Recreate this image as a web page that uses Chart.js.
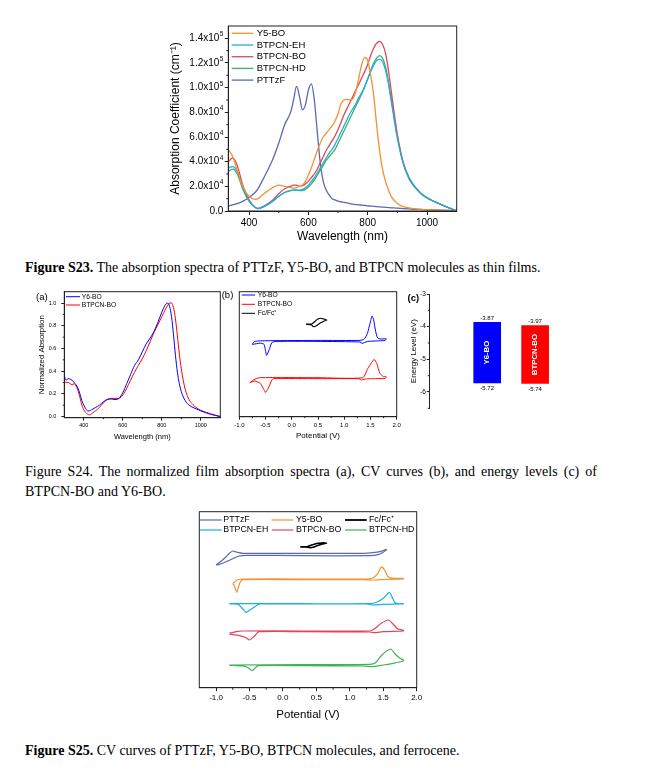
<!DOCTYPE html>
<html><head><meta charset="utf-8">
<script src="https://cdn.jsdelivr.net/npm/chart.js@4.4.0/dist/chart.umd.min.js"></script>
<style>
html,body{margin:0;padding:0;background:#fff;}
body{width:655px;height:772px;position:relative;overflow:hidden;}
.box{position:absolute;}
.cap{position:absolute;left:25px;font-family:'Liberation Serif','Times New Roman',serif;font-size:14px;line-height:16px;color:#000;white-space:nowrap;}
</style></head><body>
<div class="box" style="left:160px;top:0px;width:310px;height:250px"><canvas id="c1"></canvas></div>
<div class="cap" style="top:260px"><b>Figure S23.</b> The absorption spectra of PTTzF, Y5-BO, and BTPCN molecules as thin films.</div>
<div class="box" style="left:30px;top:280px;width:195px;height:165px"><canvas id="c2"></canvas></div>
<div class="box" style="left:215px;top:280px;width:190px;height:165px"><canvas id="c3"></canvas></div>
<div class="box" style="left:395px;top:280px;width:210px;height:140px"><canvas id="c4"></canvas></div>
<div class="cap" style="top:464px;width:572px;white-space:normal;text-align:justify;text-align-last:justify;">Figure S24. The normalized film absorption spectra (a), CV curves (b), and energy levels (c) of</div>
<div class="cap" style="top:484px">BTPCN-BO and Y6-BO.</div>
<div class="box" style="left:190px;top:505px;width:240px;height:220px"><canvas id="c5"></canvas></div>
<div class="cap" style="top:743px"><b>Figure S25.</b> CV curves of PTTzF, Y5-BO, BTPCN molecules, and ferrocene.</div>
<script>
// ---------- Figure S23 data (absorption coefficient, units of 1e4 cm^-1) ----------
const wl = [330,345,360,380,400,420,430,450,480,500,520,540,550,560,570,580,590,600,610,620,630,640,650,660,670,680,690,700,710,720,730,740,750,760,770,780,790,800,810,820,830,840,850,860,870,880,890,900,920,940,960,980,1000,1050,1100];
const y5bo = [5.0,4.4,3.3,1.9,1.2, 0.95,1.0,1.4,1.9,2.1, 2.0,1.9,1.85,1.9,2.0, 2.1,2.4,2.9,3.5,4.2, 4.9,5.5,6.0,6.3,6.6, 6.9,7.3,7.9,8.7,9.0, 9.05,9.0,9.1,9.7,10.8, 11.9,12.45,12.2,11.0,9.4, 7.0,4.9,3.4,2.4,1.7, 1.15,0.85,0.6,0.35,0.25, 0.18,0.13,0.1,0.05,0.0];
const btpcnEH = [3.5,3.6,3.2,1.8,0.8, 0.3,0.2,0.35,0.8,1.2, 1.5,1.65,1.7,1.7,1.7, 1.75,1.9,2.1,2.4,2.7, 3.1,3.5,3.9,4.3,4.7, 5.0,5.4,5.9,6.4,6.9, 7.4,7.9,8.3,8.7,9.2, 9.6,10.1,10.7,11.3,11.8, 12.2,12.3,12.1,11.4,10.3, 8.8,7.3,5.9,3.8,2.6, 1.9,1.4,1.05,0.5,0.0];
const btpcnBO = [4.0,4.3,3.7,2.0,0.9, 0.3,0.2,0.4,0.9,1.4, 1.8,2.0,2.1,2.1,2.0, 2.05,2.2,2.4,2.7,3.0, 3.4,3.9,4.4,4.9,5.3, 5.7,6.1,6.6,7.2,7.8, 8.3,8.8,9.3,9.8,10.3, 10.8,11.3,11.9,12.6,13.2, 13.6,13.75,13.5,12.8,11.4, 9.6,7.8,6.2,3.9,2.6, 1.9,1.4,1.05,0.5,0.0];
const btpcnHD = [3.2,3.4,3.0,1.7,0.8, 0.3,0.2,0.35,0.8,1.2, 1.5,1.65,1.7,1.7,1.65, 1.65,1.75,1.95,2.2,2.5, 2.9,3.3,3.7,4.1,4.4, 4.7,5.0,5.5,6.0,6.5, 7.0,7.5,8.0,8.5,9.0, 9.5,10.1,10.7,11.4,12.0, 12.4,12.6,12.4,11.7,10.5, 9.0,7.5,6.0,3.9,2.7, 1.95,1.45,1.1,0.5,0.0];
const pttzf = [0.4,0.5,0.6,0.8,1.1, 1.5,1.8,2.7,4.2,5.5, 7.0,8.0,9.0,10.1,9.3, 8.2,8.6,9.8,10.3,9.0, 6.4,3.9,2.4,1.7,1.3, 1.0,0.9,0.8,0.75,0.7, 0.65,0.6,0.55,0.52,0.5, 0.47,0.45,0.42,0.4,0.38, 0.36,0.34,0.32,0.3,0.28, 0.26,0.25,0.23,0.2,0.17, 0.14,0.12,0.1,0.07,0.05];
const s23Names = ['Y5-BO','BTPCN-EH','BTPCN-BO','BTPCN-HD','PTTzF'];
const s23Colors = ['#F5912E','#1DAEE4','#E1455D','#3DB25A','#5B68B3'];
const s23Values = [y5bo, btpcnEH, btpcnBO, btpcnHD, pttzf];
const s23XTicks = [400,600,800,1000];
const s23YTicks = [0,2,4,6,8,10,12,14];

// ---------- Figure S24a (normalized absorption) ----------
const wlA = [300,310,320,330,340,350,360,370,380,390,400,410,420,430,440,460,480,500,520,540,560,580,600,620,640,660,680,700,720,740,760,780,800,820,830,840,850,860,870,880,890,900,920,940,960,980,1000,1050,1100];
const normY6 = [0.36,0.32,0.335,0.33,0.32,0.30,0.28,0.25,0.2,0.14,0.1, 0.07,0.05,0.05,0.06, 0.08,0.1,0.13,0.15,0.155, 0.15,0.16,0.21,0.29,0.37, 0.45,0.5,0.57,0.64,0.69, 0.75,0.83,0.92,0.99,1.0, 0.97,0.88,0.72,0.54,0.39, 0.29,0.22,0.14,0.1,0.08, 0.065,0.05,0.02,0.0];
const normBO = [0.31,0.30,0.30,0.29,0.28,0.29,0.27,0.23,0.17,0.1,0.06, 0.035,0.02,0.015,0.025, 0.05,0.08,0.12,0.15,0.16, 0.16,0.16,0.19,0.25,0.32, 0.39,0.45,0.51,0.58,0.66, 0.74,0.81,0.88,0.95,0.98, 1.0,1.0,0.96,0.86,0.71, 0.55,0.42,0.24,0.15,0.105, 0.075,0.055,0.025,0.0];
const aXTicks = [400,600,800,1000];

// ---------- Figure S24b (CV, arbitrary current units) ----------
const y6V = [-0.75,-0.72,-0.65,-0.4,0.5,1.3,1.38,1.44,1.49,1.53,1.56,1.6,1.64,1.72,1.8,1.78,1.6,1.45,1.38,1.34,1.3,0.5,-0.3,-0.38,-0.43,-0.48,-0.5,-0.53,-0.6,-0.75];
const y6I = [72.3,75.0,75.7,76.0,76.3,76.3,77.5,83,93,100.7,97,85,78.5,77.7,78,76.3,75.7,75.3,74,73.3,74.7,75.3,75.3,74,67,61.3,66,72.5,73.5,72.3];
const boV = [-0.8,-0.7,-0.6,0.5,1.35,1.45,1.52,1.57,1.62,1.68,1.75,1.8,1.78,1.5,1.38,1.33,1.28,0.5,-0.35,-0.38,-0.45,-0.5,-0.53,-0.6,-0.7,-0.8];
const boI = [34,37.7,39,39,39,48.3,54,57.3,53.3,43.3,40,40,38.3,38,37.5,36.7,38,38,38,36.7,28.3,24.3,27,33.3,35.7,34];
const fcbV = [0.27,0.38,0.49,0.55,0.63,0.67,0.63,0.55,0.46,0.41,0.38,0.27];
const fcbI = [92.7,92.7,97.4,98.4,97.4,96.7,96,94,90.7,90,91.7,92.4];

// ---------- Figure S24c (energy levels, eV) ----------
const levelNames = ['Y6-BO','BTPCN-BO'];
const lumo = [-3.87,-3.97];
const homo = [-5.72,-5.74];
const levelColors = ['#0000FF','#FF0000'];

// ---------- Figure S25 (CV, arbitrary current units) ----------
const cvPTTzFV = [-1.0,-0.92,-0.85,-0.8,-0.75,-0.7,-0.6,0.3,1.2,1.35,1.45,1.55,1.5,1.42,1.3,0.3,-0.55,-0.65,-0.72,-0.8,-0.9,-0.96,-1.0];
const cvPTTzFI = [122.7,126.7,131.0,134.4,136.7,135.7,134.4,134.4,134.4,135.0,136.0,138.4,135.4,133.0,132.0,132.0,132.4,131.7,130.0,127.4,124.4,123.0,122.7];
const cvY5V = [-0.75,-0.72,-0.68,-0.6,0.3,1.25,1.35,1.42,1.47,1.52,1.57,1.65,1.8,1.8,1.6,1.45,1.35,1.2,0.3,-0.6,-0.64,-0.67,-0.69,-0.71,-0.73,-0.75];
const cvY5I = [104.0,106.0,108.0,108.7,108.7,108.7,110.0,114.4,120.7,117.7,111.0,109.4,109.4,108.7,108.4,108.0,107.7,108.0,108.0,108.0,105.4,99.4,95.4,98.7,102.7,104.0];
const cvEHV = [-0.8,0.3,1.3,1.4,1.5,1.59,1.63,1.67,1.72,1.8,1.8,1.5,1.35,1.25,0.3,-0.35,-0.42,-0.5,-0.55,-0.6,-0.67,-0.8];
const cvEHI = [84.0,84.0,84.0,85.4,89.4,95.4,91.0,85.4,84.0,84.0,83.7,83.4,82.7,83.7,83.7,83.7,81.0,77.4,75.4,78.7,83.4,83.7];
const cvBOV = [-0.8,-0.7,-0.6,0.3,1.3,1.38,1.47,1.58,1.65,1.72,1.8,1.8,1.5,1.37,1.3,0.3,-0.36,-0.42,-0.5,-0.55,-0.65,-0.8];
const cvBOI = [54.4,56.0,56.7,56.7,56.7,59.4,64.4,67.7,63.4,58.7,57.4,56.7,56.0,55.0,55.7,56.0,56.0,52.0,47.7,50.0,52.0,53.7];
const cvHDV = [-0.8,0.3,1.3,1.38,1.48,1.61,1.68,1.75,1.8,1.8,1.65,1.5,1.38,1.33,1.2,0.3,-0.37,-0.42,-0.46,-0.52,-0.6,-0.8];
const cvHDI = [22.7,23.0,23.4,24.7,32.7,38.7,33.4,29.4,27.7,26.7,24.4,22.7,21.4,21.0,21.7,22.0,22.0,19.4,17.0,20.0,21.7,22.4];
const cvFcV = [0.26,0.36,0.43,0.48,0.53,0.6,0.65,0.58,0.5,0.455,0.405,0.33,0.26];
const cvFcI = [141.0,141.0,142.7,143.7,144.4,145.0,144.4,143.4,141.7,140.4,140.0,140.7,140.7];

// ---------- helpers ----------
const FF = "'Liberation Sans', Arial, sans-serif";
Chart.defaults.font.family = FF;
Chart.defaults.color = '#000';
Chart.defaults.animation = false;
Chart.defaults.plugins.legend.display = false;
Chart.defaults.plugins.tooltip.enabled = false;
Chart.defaults.elements.point.radius = 0;

function fixY(w){ return s => { s.width = w; s.paddingTop = 0; s.paddingBottom = 0; s.paddingLeft = 0; s.paddingRight = 0; }; }
function fixX(h){ return s => { s.height = h; s.paddingTop = 0; s.paddingBottom = 0; s.paddingLeft = 0; s.paddingRight = 0; }; }
function pts(xs, ys){ return xs.map((x,i)=>({x:x, y:ys[i]})); }
function line(label, xs, ys, color, lw, extra){
  return Object.assign({label:label, data:pts(xs,ys), borderColor:color, backgroundColor:color, borderWidth:lw, pointRadius:0, fill:false, showLine:true}, extra||{});
}

const deco = {
  id:'deco',
  afterDatasetsDraw(chart, args, o){
    const ctx = chart.ctx, a = chart.chartArea, ox = o.off[0], oy = o.off[1];
    ctx.save();
    if (o.frame){ ctx.strokeStyle = '#222'; ctx.lineWidth = 1; ctx.strokeRect(a.left, a.top, a.right - a.left, a.bottom - a.top); }
    (o.minor||[]).forEach(m=>{
      const s = chart.scales[m.axis]; ctx.strokeStyle = '#222'; ctx.lineWidth = 1;
      m.values.forEach(v=>{
        const p = s.getPixelForValue(v); ctx.beginPath();
        if (m.axis === 'x'){ ctx.moveTo(p, a.bottom); ctx.lineTo(p, a.bottom + m.len); }
        else { ctx.moveTo(a.left, p); ctx.lineTo(a.left - m.len, p); }
        ctx.stroke();
      });
    });
    if (o.supTicks){
      const st = o.supTicks, s = chart.scales.y;
      ctx.fillStyle = '#000'; ctx.textBaseline = 'middle'; ctx.textAlign = 'right';
      s.ticks.forEach(t=>{
        const v = t.value, p = s.getPixelForValue(v), xr = a.left - st.gap;
        if (v === 0){ ctx.font = st.size + 'px ' + FF; ctx.fillText('0.0', xr, p); return; }
        const exp = v < 10 ? '4' : '5';
        const man = (v < 10 ? v.toFixed(1) : (v/10).toFixed(1)) + 'x10';
        ctx.font = st.supSize + 'px ' + FF; const ew = ctx.measureText(exp).width;
        ctx.fillText(exp, xr, p - st.size*0.38);
        ctx.font = st.size + 'px ' + FF; ctx.fillText(man, xr - ew - 0.3, p);
      });
    }
    (o.legend||[]).forEach(e=>{
      ctx.strokeStyle = e.color; ctx.lineWidth = e.lw || 1.3;
      ctx.beginPath(); ctx.moveTo(e.x1 - ox, e.y - oy); ctx.lineTo(e.x2 - ox, e.y - oy); ctx.stroke();
      ctx.fillStyle = '#000'; ctx.font = e.size + 'px ' + FF; ctx.textAlign = 'left'; ctx.textBaseline = 'middle';
      ctx.fillText(e.text, e.tx - ox, e.y - oy);
    });
    (o.texts||[]).forEach(t=>{
      ctx.fillStyle = t.color || '#000'; ctx.font = (t.weight || 'normal') + ' ' + t.size + 'px ' + FF;
      ctx.textAlign = t.align || 'left'; ctx.textBaseline = 'middle';
      ctx.fillText(t.text, t.x - ox, t.y - oy);
    });
    ctx.restore();
  }
};

function axisX(o){
  const ax = {type:'linear', min:o.min, max:o.max, afterFit:fixX(o.h),
    border:{display:true, color:'#222', width:1},
    grid:{display:true, drawOnChartArea:false, drawTicks:true, tickLength:o.tl, tickColor:'#222', tickWidth:1},
    ticks:{stepSize:o.step, includeBounds:false, autoSkip:false, maxRotation:0, padding:o.pad, font:{size:o.fs}, callback:o.fmt},
    title:{display:!!o.title, text:o.title, font:{size:o.tfs}, padding:{top:0, bottom:o.tpb}}};
  if (o.tickList) ax.afterBuildTicks = s => { s.ticks = o.tickList.map(v=>({value:v})); };
  return ax;
}
function axisY(o){
  const ax = {type:'linear', min:o.min, max:o.max, afterFit:fixY(o.w),
    border:{display:true, color:'#222', width:1},
    grid:{display:true, drawOnChartArea:false, drawTicks:true, tickLength:o.tl, tickColor:'#222', tickWidth:1},
    ticks:{stepSize:o.step, includeBounds:false, autoSkip:false, padding:o.pad, font:{size:o.fs}, callback:o.fmt},
    title:{display:!!o.title, text:o.title, font:{size:o.tfs}, padding:{top:o.tpt, bottom:0}}};
  if (o.tickList) ax.afterBuildTicks = s => { s.ticks = o.tickList.map(v=>({value:v})); };
  return ax;
}

// ---------- Chart 1: Figure S23 ----------
new Chart(document.getElementById('c1'), {
  type:'line',
  data:{datasets: s23Names.map((n,i)=>line(n, wl, s23Values[i], s23Colors[i], 1.3, {cubicInterpolationMode:'monotone'}))},
  options:{responsive:true, maintainAspectRatio:false,
    layout:{padding:{left:0, top:26, right:13.3, bottom:0}},
    scales:{
      x: axisX({min:330, max:1100, h:39, tl:4, step:200, pad:2, fs:10, fmt:v=>String(v), title:'Wavelength (nm)', tfs:12, tpb:5.8, tickList:s23XTicks}),
      y: axisY({min:0, max:15, w:68.3, tl:3.5, step:2, pad:1.5, fs:10, fmt:v=>'',
        title:'Absorption Coefficient (cm\u207B\u00B9)', tfs:12, tpt:8, tickList:s23YTicks})
    },
    plugins:{deco:{off:[160,0], frame:true,
      supTicks:{gap:5, size:10, supSize:6.5},
      minor:[{axis:'x', values:[500,700,900], len:2},{axis:'y', values:[1,3,5,7,9,11,13], len:2}],
      legend: s23Names.map((n,i)=>({x1:231.7, x2:253.3, y:33.3+i*11.7, tx:256.7, text:n, color:s23Colors[i], size:9.5, lw:1.3}))
    }}
  },
  plugins:[deco]
});

// ---------- Chart 2: Figure S24a ----------
new Chart(document.getElementById('c2'), {
  type:'line',
  data:{datasets:[
    line('Y6-BO', wlA, normY6, '#0000FF', 1, {cubicInterpolationMode:'monotone'}),
    line('BTPCN-BO', wlA, normBO, '#FF0000', 1, {cubicInterpolationMode:'monotone'})
  ]},
  options:{responsive:true, maintainAspectRatio:false,
    layout:{padding:{left:0, top:11.7, right:4.7, bottom:0}},
    scales:{
      x: axisX({min:300, max:1100, h:27.3, tl:3, step:200, pad:1.5, fs:5.5, fmt:v=>String(v), title:'Wavelength (nm)', tfs:7.5, tpb:3.8, tickList:aXTicks}),
      y: axisY({min:-0.01, max:1.1, w:34.3, tl:3, step:0.2, pad:5, fs:5.5, fmt:v=>v.toFixed(1), title:'Normalized Absorption', tfs:7.8, tpt:7})
    },
    plugins:{deco:{off:[30,280], frame:true,
      minor:[{axis:'x', values:[500,700,900], len:1.5},{axis:'y', values:[0.1,0.3,0.5,0.7,0.9], len:1.5}],
      legend:[
        {x1:66, x2:80, y:296.7, tx:81.7, text:'Y6-BO', color:'#0000FF', size:6.7, lw:1},
        {x1:66, x2:80, y:305, tx:81.7, text:'BTPCN-BO', color:'#FF0000', size:6.7, lw:1}
      ],
      texts:[{x:36, y:297, text:'(a)', size:9.5}]
    }}
  },
  plugins:[deco]
});

// ---------- Chart 3: Figure S24b ----------
new Chart(document.getElementById('c3'), {
  type:'scatter',
  data:{datasets:[
    line('Y6-BO', y6V, y6I, '#0000FF', 1, {tension:0.2}),
    line('BTPCN-BO', boV, boI, '#FF0000', 1, {tension:0.2}),
    line('Fc/Fc+', fcbV, fcbI, '#000000', 1.1, {tension:0.2})
  ]},
  options:{responsive:true, maintainAspectRatio:false,
    layout:{padding:{left:24.3, top:11.7, right:8.3, bottom:0}},
    scales:{
      x: axisX({min:-1, max:2, h:28.3, tl:3, step:0.5, pad:2.3, fs:6, fmt:v=>v.toFixed(1), title:'Potential (V)', tfs:8, tpb:4.2}),
      y: {type:'linear', display:false, min:0, max:125}
    },
    plugins:{deco:{off:[215,280], frame:true,
      minor:[{axis:'x', values:[-0.75,-0.25,0.25,0.75,1.25,1.75], len:1.5}],
      legend:[
        {x1:241.7, x2:255, y:295, tx:257.7, text:'Y6-BO', color:'#0000FF', size:6.7, lw:1},
        {x1:241.7, x2:255, y:304.3, tx:257.7, text:'BTPCN-BO', color:'#FF0000', size:6.7, lw:1},
        {x1:241.7, x2:255, y:313.3, tx:257.7, text:'Fc/Fc\u207A', color:'#000000', size:6.7, lw:1}
      ],
      texts:[{x:221.7, y:295, text:'(b)', size:9.5}]
    }}
  },
  plugins:[deco]
});

// ---------- Chart 4: Figure S24c ----------
const levelLabels = {
  id:'levelLabels',
  afterDatasetsDraw(chart){
    const ctx = chart.ctx, xs = chart.scales.x, ys = chart.scales.y;
    ctx.save();
    levelNames.forEach((n,i)=>{
      const cx = xs.getPixelForValue(i+1);
      const yt = ys.getPixelForValue(lumo[i]);
      const yb = ys.getPixelForValue(homo[i]);
      ctx.fillStyle = '#000'; ctx.font = '6px ' + FF; ctx.textAlign = 'center';
      ctx.textBaseline = 'bottom'; ctx.fillText(lumo[i].toFixed(2), cx, yt - 1.5);
      ctx.textBaseline = 'top'; ctx.fillText(homo[i].toFixed(2), cx, yb + 2.5);
      ctx.save(); ctx.translate(cx, (yt+yb)/2); ctx.rotate(-Math.PI/2);
      ctx.fillStyle = '#fff'; ctx.font = 'bold 7.8px ' + FF; ctx.textBaseline = 'middle';
      ctx.fillText(n, 0, 0); ctx.restore();
    });
    ctx.restore();
  }
};
new Chart(document.getElementById('c4'), {
  type:'bar',
  data:{datasets:[{label:'Energy level', data: levelNames.map((n,i)=>({x:i+1, y:[homo[i], lumo[i]]})),
    backgroundColor: levelColors, borderWidth:0, barThickness:27}]},
  options:{responsive:true, maintainAspectRatio:false,
    layout:{padding:{left:0, top:14, right:0, bottom:11.7}},
    scales:{
      x:{type:'linear', display:false, min:0.25, max:3.0},
      y: axisY({min:-6.5, max:-3, w:34.3, tl:2.5, step:1, pad:1, fs:6.5, fmt:v=>String(v), title:'Energy Level (eV)', tfs:8, tpt:13.5})
    },
    plugins:{deco:{off:[395,280], frame:false,
      minor:[{axis:'y', values:[-3.5,-4.5,-5.5,-6.5], len:1.5}],
      texts:[{x:407.5, y:298.5, text:'(c)', size:9.5, weight:'bold'}]
    }}
  },
  plugins:[deco, levelLabels]
});

// ---------- Chart 5: Figure S25 ----------
new Chart(document.getElementById('c5'), {
  type:'scatter',
  data:{datasets:[
    line('PTTzF', cvPTTzFV, cvPTTzFI, '#5B68B3', 1.2, {tension:0.2}),
    line('Y5-BO', cvY5V, cvY5I, '#F5912E', 1.2, {tension:0.2}),
    line('BTPCN-EH', cvEHV, cvEHI, '#1DAEE4', 1.2, {tension:0.2}),
    line('BTPCN-BO', cvBOV, cvBOI, '#E1455D', 1.2, {tension:0.2}),
    line('BTPCN-HD', cvHDV, cvHDI, '#3DB25A', 1.2, {tension:0.2}),
    line('Fc/Fc+', cvFcV, cvFcI, '#000000', 1.5, {tension:0.2})
  ]},
  options:{responsive:true, maintainAspectRatio:false,
    layout:{padding:{left:9.3, top:6.7, right:13.3, bottom:0}},
    scales:{
      x: axisX({min:-1.25, max:2.0, h:37.3, tl:3.5, step:0.5, pad:1.8, fs:8, fmt:v=>v.toFixed(1), title:'Potential (V)', tfs:11.5, tpb:3.1}),
      y: {type:'linear', display:false, min:0, max:176}
    },
    plugins:{deco:{off:[190,505], frame:true,
      minor:[{axis:'x', values:[-0.75,-0.25,0.25,0.75,1.25,1.75], len:2}],
      legend:[
        {x1:200, x2:221.7, y:520, tx:223.3, text:'PTTzF', color:'#5B68B3', size:8.8, lw:1.2},
        {x1:271.7, x2:293.3, y:520, tx:296, text:'Y5-BO', color:'#F5912E', size:8.8, lw:1.2},
        {x1:345, x2:366.7, y:520, tx:369, text:'Fc/Fc\u207A', color:'#000000', size:8.8, lw:1.8},
        {x1:200, x2:221.7, y:530, tx:223.3, text:'BTPCN-EH', color:'#1DAEE4', size:8.8, lw:1.2},
        {x1:271.7, x2:293.3, y:530, tx:296, text:'BTPCN-BO', color:'#E1455D', size:8.8, lw:1.2},
        {x1:345, x2:366.7, y:530, tx:369, text:'BTPCN-HD', color:'#3DB25A', size:8.8, lw:1.2}
      ]
    }}
  },
  plugins:[deco]
});
</script>
</body></html>
